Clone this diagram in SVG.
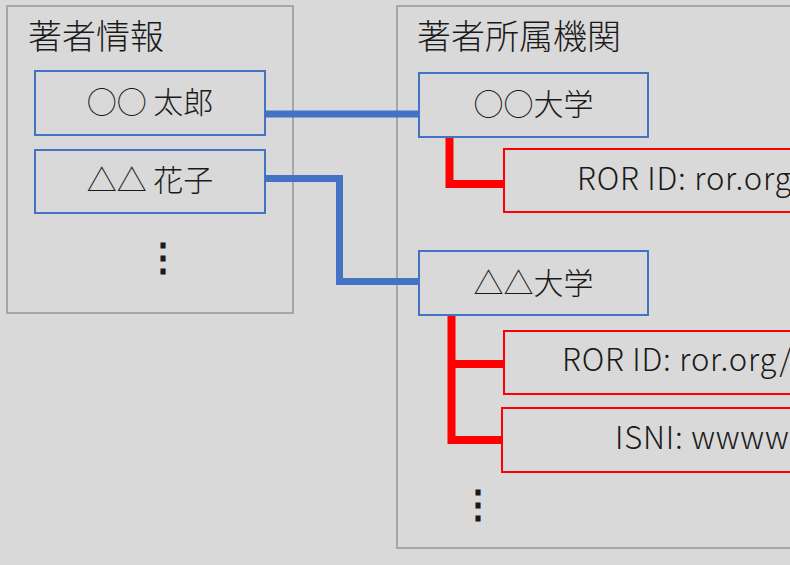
<svg xmlns="http://www.w3.org/2000/svg" width="790" height="565" viewBox="0 0 790 565">
<style>
.panel{fill:none;stroke:#a6a6a6;stroke-width:2}
.bbox{fill:none;stroke:#4472c4;stroke-width:2}
.rbox{fill:none;stroke:#ff0000;stroke-width:2}
.t{font-family:"Noto Sans CJK JP","Noto Sans",sans-serif;fill:#1a1a1a;font-weight:300}
.title{font-size:34px}
.lbl{font-size:30px}
.lat{font-size:31px;letter-spacing:0.8px}
.dots{font-size:38px;font-weight:700}
.blue{fill:none;stroke:#4472c4;stroke-width:7;stroke-linejoin:miter}
.red{fill:none;stroke:#ff0000;stroke-width:8;stroke-linejoin:miter}
</style>
<rect width="790" height="565" fill="#d9d9d9"/>
<g id="author-panel">
<rect class="panel" x="7" y="6" width="286" height="307"/>
<text class="t title" x="28" y="49">著者情報</text>
<text class="t dots" x="163" y="271" text-anchor="middle">⋮</text>
</g>
<g id="affiliation-panel">
<rect class="panel" x="397" y="6" width="410" height="542"/>
<text class="t title" x="417" y="49">著者所属機関</text>
<text class="t dots" x="478" y="518" text-anchor="middle">⋮</text>
</g>
<g id="connectors">
<path class="blue" d="M265 114 H420"/>
<path class="blue" d="M265 178.5 H339.5 V281.5 H420"/>
<path class="red" d="M449.5 136 V184 H504"/>
<path class="red" d="M451.5 315 V440 H502"/>
<path class="red" d="M451.5 364 H504"/>
</g>
<g id="author-taro">
<rect class="bbox" x="35" y="71" width="230" height="64"/>
<text class="t lbl" x="150" y="113" text-anchor="middle">○○ 太郎</text>
</g>
<g id="author-hanako">
<rect class="bbox" x="35" y="150" width="230" height="63"/>
<text class="t lbl" x="150" y="191" text-anchor="middle">△△ 花子</text>
</g>
<g id="univ-a">
<rect class="bbox" x="419" y="73" width="229" height="64"/>
<text class="t lbl" x="533.5" y="115" text-anchor="middle">○○大学</text>
</g>
<g id="ror-a">
<rect class="rbox" x="504" y="149" width="310" height="63"/>
<text class="t lat" x="577" y="190">ROR ID: ror.org</text>
</g>
<g id="univ-b">
<rect class="bbox" x="419" y="251" width="229" height="64"/>
<text class="t lbl" x="533.5" y="294" text-anchor="middle">△△大学</text>
</g>
<g id="ror-b">
<rect class="rbox" x="504" y="331" width="310" height="63"/>
<text class="t lat" x="562" y="371">ROR ID: ror.org/</text>
</g>
<g id="isni-b">
<rect class="rbox" x="502" y="408" width="312" height="64"/>
<text class="t lat" x="615" y="449">ISNI: wwww</text>
</g>
</svg>
